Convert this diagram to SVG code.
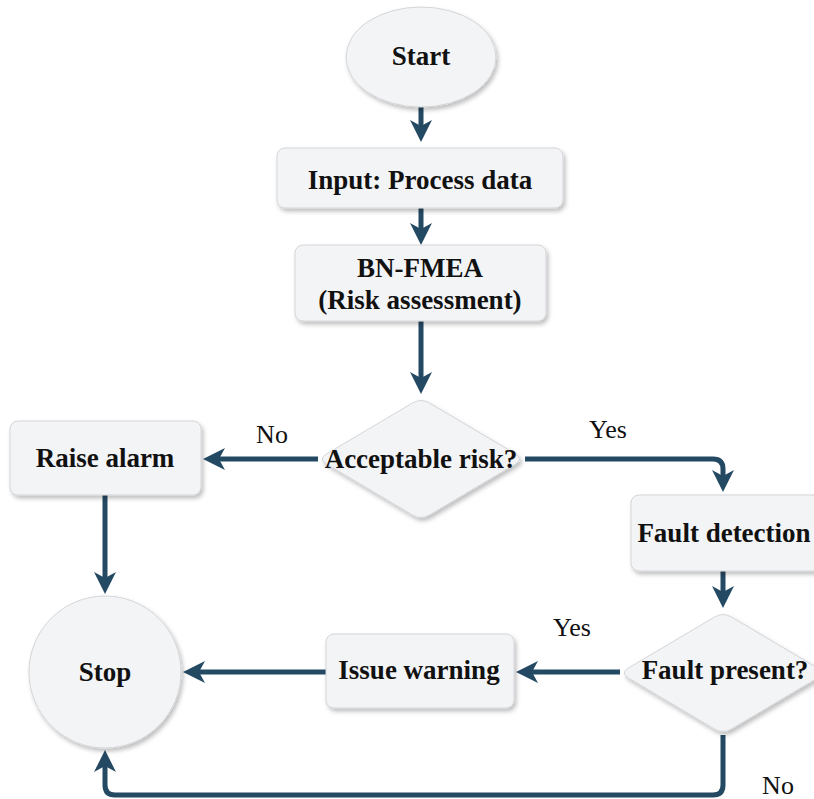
<svg xmlns="http://www.w3.org/2000/svg" width="814" height="799" viewBox="0 0 814 799">
<style>
.node{fill:#f3f4f6;stroke:#d3d5d8;stroke-width:1;filter:url(#sh)}
.t{font-family:"Liberation Serif","Times New Roman",serif;font-weight:bold;font-size:27px;fill:#111;text-anchor:middle}
.l{font-family:"Liberation Serif","Times New Roman",serif;font-size:26px;fill:#111;text-anchor:middle}
.c{fill:none;stroke:#244963;stroke-width:5;stroke-linejoin:round;marker-end:url(#ah)}
</style>
<defs>
<filter id="sh" x="-20%" y="-20%" width="140%" height="140%">
<feDropShadow dx="2" dy="3" stdDeviation="2" flood-color="#000" flood-opacity="0.25"/>
</filter>
<marker id="ah" markerUnits="userSpaceOnUse" markerWidth="40" markerHeight="40" refX="0" refY="0" orient="auto" overflow="visible">
<path d="M10,0 L-12,-11 L-6,0 L-12,11 Z" fill="#244963"/>
</marker>
<path id="dia" d="M 8.6,-55.9 L 94.4,-5.1 Q 103,0 94.4,5.1 L 8.6,55.9 Q 0,61 -8.6,55.9 L -94.4,5.1 Q -103,0 -94.4,-5.1 L -8.6,-55.9 Q 0,-61 8.6,-55.9 Z"/>
</defs>
<rect width="814" height="799" fill="#fff"/>
<g id="connectors">
<path class="c" d="M421,107 V132"/>
<path class="c" d="M421,208 V235"/>
<path class="c" d="M421,321 V384"/>
<path class="c" d="M318,459 H213"/>
<path class="c" d="M525,459 H713 Q723,459 723,469 V482"/>
<path class="c" d="M723,571 V598"/>
<path class="c" d="M620,672 H526"/>
<path class="c" d="M326,672 H193"/>
<path class="c" d="M105,495 V584"/>
<path class="c" d="M723,735 V785 Q723,795 713,795 H115 Q105,795 105,785 V760"/>
</g>
<g id="start"><ellipse class="node" cx="421" cy="57" rx="75" ry="50"/><text class="t" x="421" y="65">Start</text></g>
<g id="input"><rect class="node" x="277" y="148" width="286" height="60" rx="8"/><text class="t" x="420" y="189">Input: Process data</text></g>
<g id="bnfmea"><rect class="node" x="295" y="245" width="251" height="76" rx="8"/><text class="t" x="420" y="277">BN-FMEA</text><text class="t" x="420" y="309">(Risk assessment)</text></g>
<g id="acceptable"><use href="#dia" class="node" transform="translate(421,459)"/><text class="t" x="421" y="468">Acceptable risk?</text></g>
<g id="raise"><rect class="node" x="10" y="421" width="191" height="74" rx="8"/><text class="t" x="105" y="467">Raise alarm</text></g>
<g id="fault"><rect class="node" x="631" y="495" width="190" height="76" rx="8"/><text class="t" x="724" y="542">Fault detection</text></g>
<g id="present"><use href="#dia" class="node" transform="translate(723,673)"/><text class="t" x="725" y="679">Fault present?</text></g>
<g id="issue"><rect class="node" x="326" y="634" width="188" height="74" rx="8"/><text class="t" x="419" y="679">Issue warning</text></g>
<g id="stop"><circle class="node" cx="105" cy="672" r="76"/><text class="t" x="105" y="681">Stop</text></g>
<g id="labels">
<text class="l" x="272" y="443">No</text>
<text class="l" x="608" y="438">Yes</text>
<text class="l" x="572" y="636">Yes</text>
<text class="l" x="778" y="794">No</text>
</g>
</svg>
